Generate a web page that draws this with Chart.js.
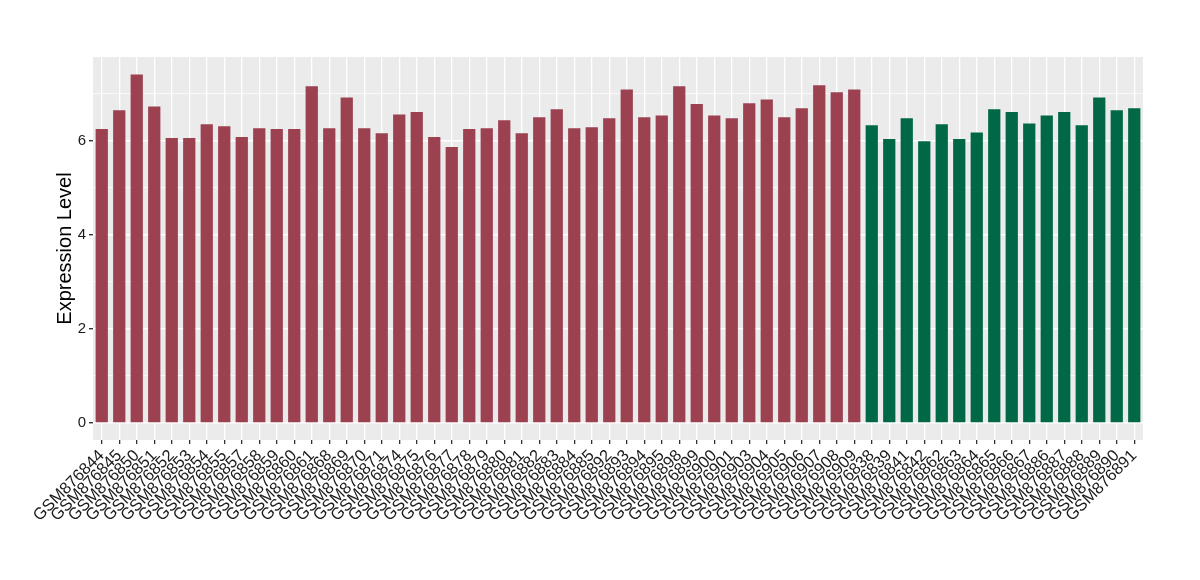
<!DOCTYPE html>
<html>
<head>
<meta charset="utf-8">
<script src="https://cdn.jsdelivr.net/npm/chart.js@4.4.1/dist/chart.umd.min.js"></script>
<style>
  body { margin: 0; background: #fff; }
</style>
</head>
<body>
<canvas id="myChart" width="1200" height="580"></canvas>
<script>
// first group (red bars)
const samplesA = ["GSM876844","GSM876845","GSM876850","GSM876851","GSM876852","GSM876853","GSM876854","GSM876855","GSM876857","GSM876858","GSM876859","GSM876860","GSM876861","GSM876868","GSM876869","GSM876870","GSM876871","GSM876874","GSM876875","GSM876876","GSM876877","GSM876878","GSM876879","GSM876880","GSM876881","GSM876882","GSM876883","GSM876884","GSM876885","GSM876892","GSM876893","GSM876894","GSM876895","GSM876898","GSM876899","GSM876900","GSM876901","GSM876903","GSM876904","GSM876905","GSM876906","GSM876907","GSM876908","GSM876909"];
const valuesA = [6.24,6.64,7.40,6.72,6.05,6.05,6.34,6.30,6.07,6.26,6.24,6.24,7.15,6.26,6.91,6.26,6.15,6.55,6.60,6.07,5.86,6.24,6.26,6.43,6.15,6.49,6.66,6.26,6.28,6.47,7.08,6.49,6.53,7.15,6.77,6.53,6.47,6.79,6.87,6.49,6.68,7.17,7.02,7.08];

// second group (green bars)
const samplesB = ["GSM876838","GSM876839","GSM876841","GSM876842","GSM876862","GSM876863","GSM876864","GSM876865","GSM876866","GSM876867","GSM876886","GSM876887","GSM876888","GSM876889","GSM876890","GSM876891"];
const valuesB = [6.32,6.03,6.47,5.98,6.34,6.03,6.17,6.66,6.60,6.36,6.53,6.60,6.32,6.91,6.64,6.68];

const yTicks = [0, 1, 2, 3, 4, 5, 6, 7];
const yLabels = [0, 2, 4, 6];

const colorA = "#9B4150";
const colorB = "#006846";

const labels = samplesA.concat(samplesB);
const values = valuesA.concat(valuesB);
const colors = samplesA.map(() => colorA).concat(samplesB.map(() => colorB));

const panelBg = {
  id: "panelBg",
  beforeDraw(chart) {
    const a = chart.chartArea;
    const c = chart.ctx;
    c.save();
    c.fillStyle = "#EBEBEB";
    c.fillRect(a.left, a.top, a.right - a.left, a.bottom - a.top);
    c.restore();
  }
};

const ctx = document.getElementById("myChart");

const myChart = new Chart(ctx, {
  type: "bar",
  data: {
    labels: labels,
    datasets: [{
      data: values,
      backgroundColor: colors,
      barPercentage: 0.7,
      categoryPercentage: 1.0,
    }],
  },
  options: {
    responsive: false,
    animation: false,
    layout: { padding: { top: 57, right: 57, bottom: 0, left: 0 } },
    plugins: {
      legend: { display: false },
      tooltip: { enabled: false },
    },
    scales: {
      x: {
        offset: true,
        border: { display: false },
        grid: {
          offset: false,
          color: "#FFFFFF",
          lineWidth: 1.3,
          tickColor: "#333333",
          tickLength: 4,
        },
        ticks: {
          autoSkip: false,
          minRotation: 45,
          maxRotation: 45,
          padding: 2,
          color: "#1A1A1A",
          font: { family: "Liberation Sans", size: 16.5 },
        },
        afterFit: (axis) => { axis.height = 140; },
      },
      y: {
        min: -0.36,
        max: 7.77,
        border: { display: false },
        afterBuildTicks: (axis) => { axis.ticks = yTicks.map((v) => ({ value: v })); },
        grid: {
          color: "#FFFFFF",
          lineWidth: (c) => (yLabels.includes(c.tick.value) ? 1.4 : 0.7),
          tickColor: (c) => (yLabels.includes(c.tick.value) ? "#333333" : "rgba(0,0,0,0)"),
          tickLength: 4,
        },
        ticks: {
          padding: 3,
          color: "#1A1A1A",
          font: { family: "Liberation Sans", size: 15 },
          callback: (v) => (yLabels.includes(v) ? String(v) : ""),
        },
        title: {
          display: true,
          text: "Expression Level",
          color: "#000000",
          font: { family: "Liberation Sans", size: 20 },
          padding: { top: 53, bottom: 0 },
        },
        afterFit: (axis) => { axis.width = 93; },
      },
    },
  },
  plugins: [panelBg],
});
</script>
</body>
</html>
